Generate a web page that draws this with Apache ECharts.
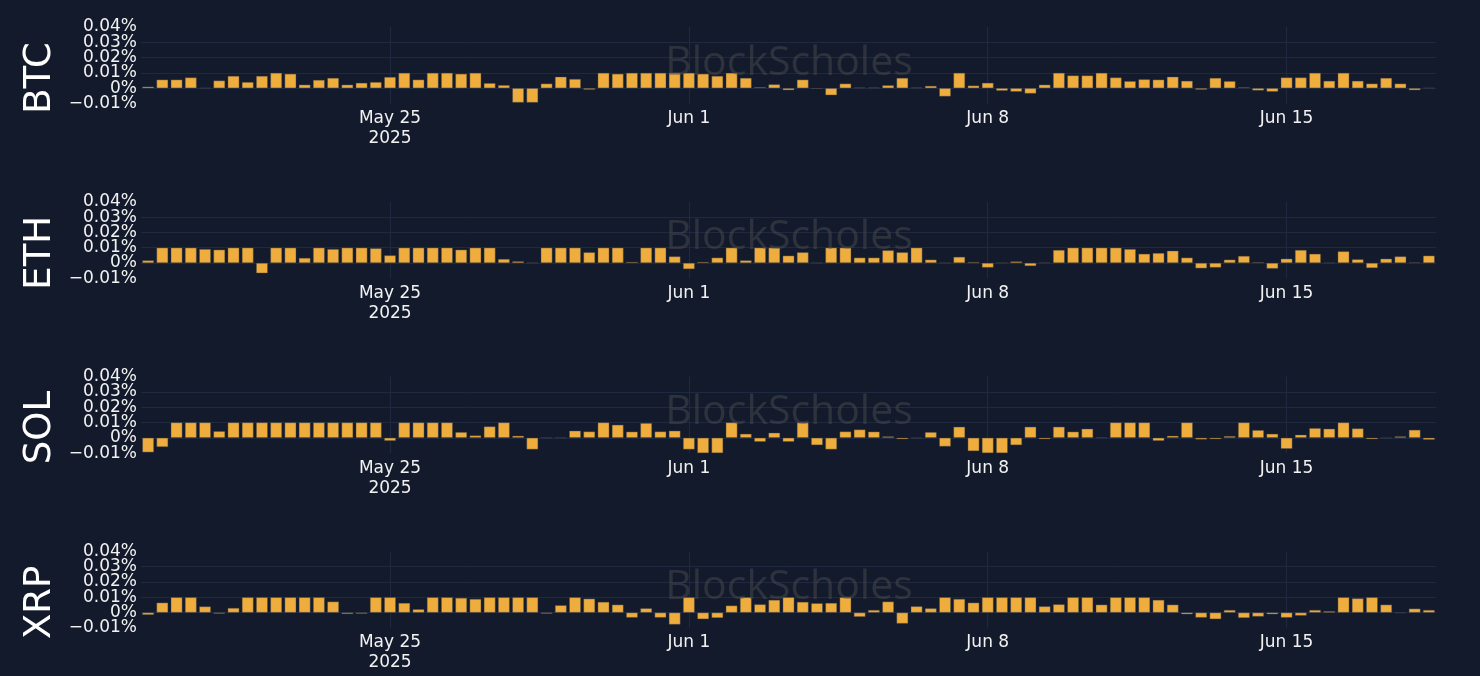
<!DOCTYPE html>
<html>
<head>
<meta charset="utf-8">
<script src="https://cdn.jsdelivr.net/npm/echarts@6/dist/echarts.min.js"></script>
<style>
  html, body { margin: 0; padding: 0; background: #131a2b; }
  #chart { width: 1480px; height: 676px; }
</style>
</head>
<body>
<div id="chart"></div>
<script>
// ---- Data (funding rates in %, one value per 8-hour period) ----
const coinNames = ['BTC', 'ETH', 'SOL', 'XRP'];
const firstPeriodUTC = Date.UTC(2025, 4, 19, 8, 0, 0); // May 19 2025 08:00
const periodHours = 8;

const btcRates = [0.001,0.0056,0.0056,0.007,0.0002,0.005,0.008,0.004,0.008,0.01,
  0.0094,0.0023,0.0054,0.0067,0.0023,0.0035,0.004,0.0073,0.01,0.0056,
  0.01,0.01,0.0094,0.01,0.0033,0.002,-0.0094,-0.0094,0.003,0.0075,
  0.006,-0.001,0.01,0.0094,0.01,0.01,0.01,0.01,0.01,0.0094,
  0.008,0.01,0.0067,0.0006,0.0025,-0.0013,0.0056,-0.0004,-0.0046,0.003,
  0.0004,0.0004,0.0019,0.0067,0.0004,0.0015,-0.0054,0.01,0.0017,0.0035,
  -0.0017,-0.0023,-0.0035,0.0023,0.01,0.0083,0.0083,0.01,0.007,0.0046,
  0.0058,0.0056,0.0075,0.0048,-0.001,0.0067,0.0046,0.0005,-0.0015,-0.0023,
  0.007,0.007,0.01,0.0048,0.01,0.0048,0.003,0.0067,0.003,-0.0013,
  0.0003];

const ethRates = [0.0017,0.01,0.01,0.01,0.0091,0.0087,0.01,0.01,-0.0067,0.01,
  0.01,0.0033,0.01,0.0091,0.01,0.01,0.0096,0.005,0.01,0.01,
  0.01,0.01,0.0087,0.01,0.01,0.0026,0.0011,0.0002,0.01,0.01,
  0.01,0.007,0.01,0.01,0.0007,0.01,0.01,0.0043,-0.004,0.0007,
  0.0035,0.01,0.0017,0.01,0.01,0.0048,0.007,0.0002,0.01,0.01,
  0.0035,0.0035,0.0083,0.007,0.01,0.0022,0.0002,0.004,0.0006,-0.003,
  0.0002,0.001,-0.002,0.0003,0.0085,0.01,0.01,0.01,0.01,0.0091,
  0.006,0.0065,0.008,0.0035,-0.0035,-0.003,0.0022,0.0046,0.0005,-0.0037,
  0.0028,0.0085,0.006,0.0002,0.0076,0.0024,-0.0033,0.0028,0.0043,0.0004,
  0.0048];

const solRates = [-0.0095,-0.006,0.01,0.01,0.01,0.0043,0.01,0.01,0.01,0.01,
  0.01,0.01,0.01,0.01,0.01,0.01,0.01,-0.002,0.01,0.01,
  0.01,0.01,0.0037,0.0015,0.0074,0.01,0.0013,-0.0076,0.0001,0.0001,
  0.0046,0.0041,0.01,0.0085,0.004,0.0096,0.0041,0.0046,-0.0076,-0.01,
  -0.01,0.01,0.0026,-0.0026,0.0033,-0.0026,0.01,-0.0048,-0.0076,0.0041,
  0.0054,0.004,0.0009,-0.0009,-0.0002,0.0037,-0.0057,0.0072,-0.0087,-0.01,
  -0.01,-0.0048,0.0072,-0.0009,0.0072,0.004,0.0059,0.0002,0.01,0.01,
  0.01,-0.002,0.0013,0.01,-0.0011,-0.0009,0.0011,0.01,0.005,0.0026,
  -0.0072,0.002,0.0063,0.0059,0.01,0.0061,-0.0009,-0.0002,0.0009,0.0052,
  -0.0013];

const xrpRates = [-0.0015,0.0065,0.01,0.01,0.004,-0.0007,0.003,0.01,0.01,0.01,
  0.01,0.01,0.01,0.0072,-0.0009,-0.0007,0.01,0.01,0.0063,0.0022,
  0.01,0.01,0.0096,0.0089,0.01,0.01,0.01,0.01,-0.0007,0.0048,
  0.01,0.0091,0.007,0.0052,-0.0033,0.0028,-0.0033,-0.0078,0.01,-0.0043,
  -0.0035,0.0046,0.01,0.0054,0.0083,0.01,0.007,0.0061,0.0063,0.01,
  -0.0028,0.0017,0.0072,-0.0072,0.0041,0.0028,0.01,0.0089,0.0065,0.01,
  0.01,0.01,0.01,0.0041,0.0054,0.01,0.01,0.0052,0.01,0.01,
  0.01,0.0083,0.0052,-0.0011,-0.0033,-0.0043,0.0017,-0.0035,-0.0026,-0.0011,
  -0.0033,-0.002,0.0017,0.0009,0.01,0.0093,0.01,0.0052,-0.0002,0.0026,
  0.0017];

const xTickDates = [Date.UTC(2025,4,25), Date.UTC(2025,5,1), Date.UTC(2025,5,8), Date.UTC(2025,5,15)];
const yTickValues = [-0.01, 0, 0.01, 0.02, 0.03, 0.04];
const watermarkText = 'BlockScholes';

// ---- Chart ----
const allRates = [btcRates, ethRates, solRates, xrpRates];
const HOUR = 3600 * 1000;
const periodTimes = btcRates.map((_, i) => firstPeriodUTC + i * periodHours * HOUR);
const xMin = firstPeriodUTC - (periodHours / 2) * HOUR;
const xMax = periodTimes[periodTimes.length - 1] + (periodHours / 2) * HOUR;
const yMin = yTickValues[0], yMax = yTickValues[yTickValues.length - 1];
const MONTHS = ['Jan','Feb','Mar','Apr','May','Jun','Jul','Aug','Sep','Oct','Nov','Dec'];

const PANEL_TOP = 27, PANEL_STEP = 174.8, PANEL_H = 76.5;
const FONT = 'DejaVu Sans';

const pctLabel = (v) => {
  const r = Math.round(v * 100) / 100;
  if (r === 0) return '0%';
  return (r < 0 ? '\u2212' : '') + Math.abs(r).toFixed(2) + '%';
};
// Split tick labels over two stacked axes so that tight tick spacing does not hide any of them
const yTicksA = yTickValues.filter((_, i) => i % 2 === 0);
const yTicksB = yTickValues.filter((_, i) => i % 2 === 1);

const grids = [], xAxes = [], yAxes = [], series = [], graphics = [];
coinNames.forEach((name, k) => {
  const top = PANEL_TOP + k * PANEL_STEP;
  grids.push({ left: 141, right: 44, top: top, height: PANEL_H, containLabel: false });
  xAxes.push({
    type: 'value', gridIndex: k, min: xMin, max: xMax, scale: true,
    axisLine: { show: false },
    axisTick: { show: false, customValues: xTickDates },
    splitLine: { show: true, lineStyle: { color: '#1f2940', width: 1 } },
    axisLabel: {
      customValues: xTickDates,
      color: '#f2f2f2', fontFamily: FONT, fontSize: 17, lineHeight: 20, margin: 5,
      hideOverlap: false, showMinLabel: true, showMaxLabel: true,
      formatter: (v) => {
        const d = new Date(v);
        const s = MONTHS[d.getUTCMonth()] + ' ' + d.getUTCDate();
        return v === xTickDates[0] ? s + '\n' + d.getUTCFullYear() : s;
      }
    }
  });
  [yTicksA, yTicksB].forEach((ticks, j) => {
    yAxes.push({
      type: 'value', gridIndex: k, position: 'left', min: yMin, max: yMax, interval: 0.01,
      axisLine: { show: false }, axisTick: { show: false },
      splitLine: { show: j === 0, showMinLine: false, showMaxLine: false, lineStyle: { color: '#1f2940', width: 1 } },
      axisLabel: {
        customValues: ticks,
        color: '#f2f2f2', fontFamily: FONT, fontSize: 17, margin: 4,
        hideOverlap: false, showMinLabel: true, showMaxLabel: true,
        formatter: pctLabel
      }
    });
  });
  series.push({
    type: 'bar', name: name, xAxisIndex: k, yAxisIndex: 2 * k,
    data: allRates[k].map((v, i) => [periodTimes[i], v]),
    barWidth: 11.6,
    itemStyle: { color: '#eead3c', borderColor: 'rgba(70,70,75,0.8)', borderWidth: 0.5 },
    emphasis: { disabled: true },
    animation: false
  });
  graphics.push({
    type: 'text', x: 40, y: top + 51, rotation: Math.PI / 2, z: 10,
    style: { text: name, fill: '#ffffff', font: '37px "' + FONT + '"', textAlign: 'center', textVerticalAlign: 'middle' }
  });
  graphics.push({
    type: 'text', x: 789, y: top + 36, z: 100,
    style: { text: watermarkText, fill: 'rgba(80,80,85,0.45)', font: '400 41px "Open Sans"', textAlign: 'center', textVerticalAlign: 'middle' }
  });
});

const chart = echarts.init(document.getElementById('chart'), null, { renderer: 'canvas' });
chart.setOption({
  backgroundColor: '#131a2b',
  animation: false,
  grid: grids,
  xAxis: xAxes,
  yAxis: yAxes,
  series: series,
  graphic: graphics
});
</script>
</body>
</html>
